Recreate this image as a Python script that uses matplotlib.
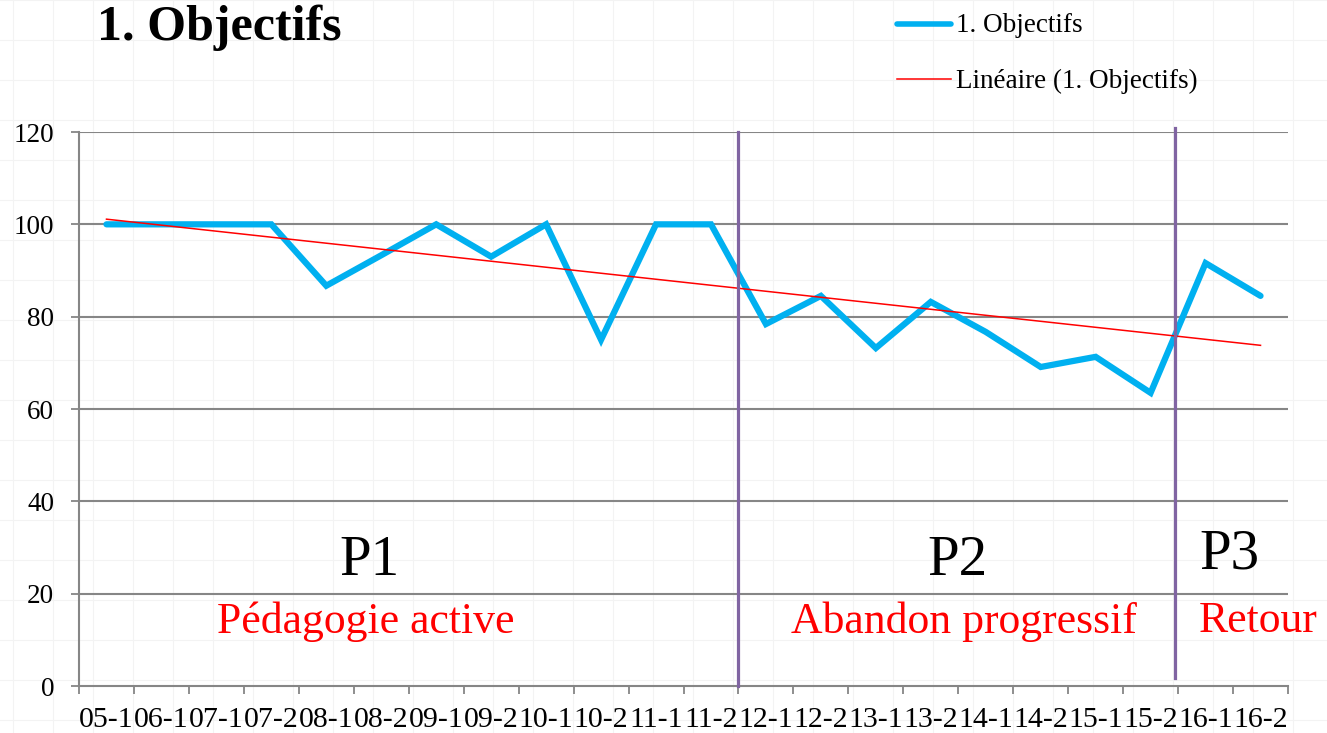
import numpy as np
import matplotlib
matplotlib.use("Agg")
import matplotlib.pyplot as plt
from matplotlib.lines import Line2D

plt.rcParams['font.family'] = ['Liberation Serif', 'DejaVu Serif']

categories = ["05-1", "06-1", "07-1", "07-2", "08-1", "08-2", "09-1", "09-2",
              "10-1", "10-2", "11-1", "11-2", "12-1", "12-2", "13-1", "13-2",
              "14-1", "14-2", "15-1", "15-2", "16-1", "16-2"]
objectifs = [100, 100, 100, 100, 86.7, 93.3, 100, 93.0, 100, 75.0, 100, 100,
             78.4, 84.5, 73.2, 83.2, 76.7, 69.1, 71.3, 63.5, 91.6, 84.5]
series_label = "1. Objectifs"
trend_label = "Linéaire (1. Objectifs)"
yticks = [0, 20, 40, 60, 80, 100, 120]
period_names = ["P1", "P2", "P3"]
period_labels = ["Pédagogie active", "Abandon progressif", "Retour"]

BLUE = "#00B0F0"
RED = "#FF0000"
PURPLE = "#8064A2"
GRID = "#868686"

W, H, DPI = 1327, 733, 100
fig = plt.figure(figsize=(W / DPI, H / DPI), dpi=DPI)
fig.patch.set_facecolor("white")

# faint spreadsheet background grid
for x in range(13, W, 40):
    fig.add_artist(Line2D([x / W, x / W], [0, 1], color="#f3f3f3", lw=0.8, zorder=0))
for y in range(0, H, 40):
    fig.add_artist(Line2D([0, 1], [1 - y / H, 1 - y / H], color="#f3f3f3", lw=0.8, zorder=0))

ax = fig.add_axes([79 / W, 1 - 686 / H, (1288 - 79) / W, (686 - 132) / H])
ax.patch.set_alpha(0)

x = np.arange(len(categories))
ax.set_xlim(-0.5, len(categories) - 0.5)
ax.set_ylim(0, 120)

for v in yticks[1:]:
    ax.axhline(v, color=GRID, lw=1.5, zorder=1)

ax.plot(x, objectifs, color=BLUE, lw=4.5, solid_joinstyle="miter", solid_capstyle="round", zorder=3)
coef = np.polyfit(x, objectifs, 1)
ax.plot(x, np.polyval(coef, x), color=RED, lw=1.1, zorder=4)

# period separators
ax.plot([11.5, 11.5], [0, 120], color=PURPLE, lw=2.3, zorder=5, clip_on=False)
ax.plot([19.45, 19.45], [1.7, 120.9], color=PURPLE, lw=2.3, zorder=5, clip_on=False)

for s in ["top", "right"]:
    ax.spines[s].set_visible(False)
for s in ["left", "bottom"]:
    ax.spines[s].set_color(GRID)
    ax.spines[s].set_linewidth(1.5)

ax.set_yticks(yticks)
ax.tick_params(axis="y", length=6, width=1.3, color=GRID, pad=12, labelsize=19.5)
ax.set_xticks(x)
ax.set_xticklabels(categories)
ax.set_xticks(np.arange(-0.5, len(categories)), minor=True)
ax.tick_params(axis="x", which="major", length=0, pad=15, labelsize=21.5)
ax.tick_params(axis="x", which="minor", length=6, width=1.3, color=GRID)

# annotations
ax.text(4.79, 27.0, period_names[0], fontsize=41, ha="center", va="center")
ax.text(15.48, 27.0, period_names[1], fontsize=41, ha="center", va="center")
ax.text(20.43, 28.5, period_names[2], fontsize=41, ha="center", va="center")
ax.text(4.72, 14.0, period_labels[0], fontsize=31.5, ha="center", va="center", color=RED)
ax.text(15.6, 14.0, period_labels[1], fontsize=31.5, ha="center", va="center", color=RED)
ax.text(20.95, 14.0, period_labels[2], fontsize=31.5, ha="center", va="center", color=RED, clip_on=False)

# title
fig.text(97 / W, 1 - 28 / H, series_label, fontsize=36, fontweight="bold", ha="left", va="center")

# legend (manual)
fig.add_artist(Line2D([897 / W, 951 / W], [1 - 24 / H, 1 - 24 / H], color=BLUE, lw=4, solid_capstyle="round"))
fig.text(956 / W, 1 - 26 / H, series_label, fontsize=19.5, ha="left", va="center")
fig.add_artist(Line2D([897 / W, 951 / W], [1 - 79 / H, 1 - 79 / H], color=RED, lw=1.1))
fig.text(956 / W, 1 - 81 / H, trend_label, fontsize=19.5, ha="left", va="center")

fig.savefig("out.png", dpi=DPI)
